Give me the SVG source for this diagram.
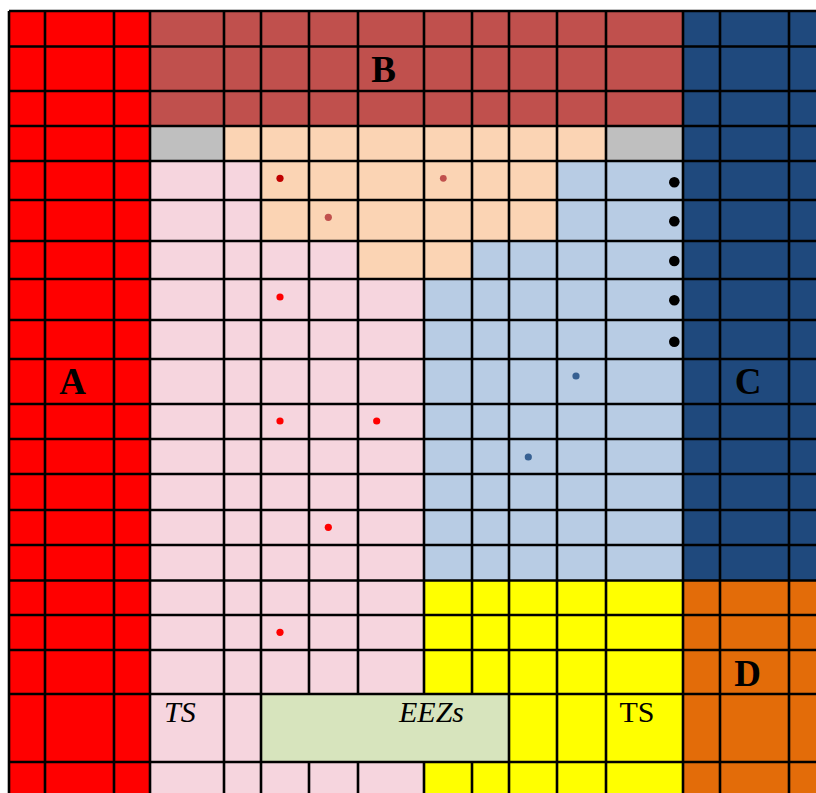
<svg xmlns="http://www.w3.org/2000/svg" width="816" height="793" viewBox="0 0 816 793">
<style>
.g{stroke:#000;stroke-width:2.6;fill:none}
.lbl{font-family:"Liberation Serif","Times New Roman",serif;font-weight:bold;font-size:37px;fill:#000;text-anchor:middle}
.it{font-family:"Liberation Serif","Times New Roman",serif;font-style:italic;font-size:30px;fill:#000}
.rg{font-family:"Liberation Serif","Times New Roman",serif;font-size:30px;fill:#000}
</style>
<rect x="0" y="0" width="816" height="793" fill="#fff"/>
<g id="regionA"><rect x="9" y="11" width="141" height="782" fill="#FF0000"/></g>
<g id="regionB"><rect x="150" y="11" width="533" height="115" fill="#C0504D"/></g>
<g id="regionC"><rect x="683" y="11" width="133" height="569.5" fill="#1F497D"/></g>
<g id="regionD"><rect x="683" y="580.5" width="133" height="212.5" fill="#E36C09"/></g>
<g id="gray"><rect x="150" y="126" width="74" height="35" fill="#BFBFBF"/><rect x="606" y="126" width="77" height="35" fill="#BFBFBF"/></g>
<g id="pinkTS">
<rect x="150" y="161" width="111" height="632" fill="#F6D5DE"/>
<rect x="261" y="241" width="97" height="552" fill="#F6D5DE"/>
<rect x="358" y="279" width="66" height="514" fill="#F6D5DE"/>
</g>
<g id="peach">
<rect x="224" y="126" width="382" height="35" fill="#FBD4B4"/>
<rect x="261" y="161" width="296" height="80" fill="#FBD4B4"/>
<rect x="358" y="241" width="114" height="38" fill="#FBD4B4"/>
</g>
<g id="lightblue">
<rect x="557" y="161" width="126" height="80" fill="#B8CCE4"/>
<rect x="472" y="241" width="211" height="38" fill="#B8CCE4"/>
<rect x="424" y="279" width="259" height="301.5" fill="#B8CCE4"/>
</g>
<g id="yellowTS"><rect x="424" y="580.5" width="259" height="212.5" fill="#FFFF00"/></g>
<g id="eezs"><rect x="261" y="694" width="248" height="68" fill="#D7E4BD"/></g>
<g id="grid" class="g">
<path d="M9 11H816M9 46.5H816M9 91H816M9 126H816M9 161H816M9 200H816M9 241H816M9 279H816M9 320H816M9 359H816M9 404H816M9 439H816M9 474H816M9 510H816M9 545H816M9 580.5H816M9 615H816M9 650H816M9 694H816M9 762H816"/>
<path d="M9 11V793M45 11V793M114 11V793M150 11V793M224 11V793M261 11V793M509 11V793M557 11V793M606 11V793M683 11V793M720 11V793M789 11V793"/>
<path d="M309 11V694M309 762V793M358 11V694M358 762V793M424 11V694M424 762V793M472 11V694M472 762V793"/>
</g>
<g id="dots">
<circle cx="280" cy="178.3" r="3.6" fill="#C00000"/>
<circle cx="443.3" cy="178.3" r="3.4" fill="#C0504D"/>
<circle cx="328.3" cy="217.3" r="3.6" fill="#C0504D"/>
<circle cx="280" cy="297" r="3.6" fill="#FF0000"/>
<circle cx="280" cy="421" r="3.6" fill="#FF0000"/>
<circle cx="376.7" cy="421" r="3.6" fill="#FF0000"/>
<circle cx="328.3" cy="527.3" r="3.6" fill="#FF0000"/>
<circle cx="280" cy="632.3" r="3.6" fill="#FF0000"/>
<circle cx="576" cy="376" r="3.6" fill="#376092"/>
<circle cx="528.3" cy="457" r="3.6" fill="#376092"/>
<circle cx="674.3" cy="182.3" r="5.3" fill="#000"/>
<circle cx="674.3" cy="221.3" r="5.3" fill="#000"/>
<circle cx="674.3" cy="261" r="5.3" fill="#000"/>
<circle cx="674.3" cy="300.3" r="5.3" fill="#000"/>
<circle cx="674.3" cy="341.7" r="5.3" fill="#000"/>
</g>
<g id="labels">
<text class="lbl" x="72.5" y="394">A</text>
<text class="lbl" x="383.5" y="82">B</text>
<text class="lbl" x="748" y="394">C</text>
<text class="lbl" x="747.5" y="686">D</text>
<text class="it" x="164" y="722">TS</text>
<text class="it" x="399" y="722">EEZs</text>
<text class="rg" x="619.5" y="722">TS</text>
</g>
</svg>
